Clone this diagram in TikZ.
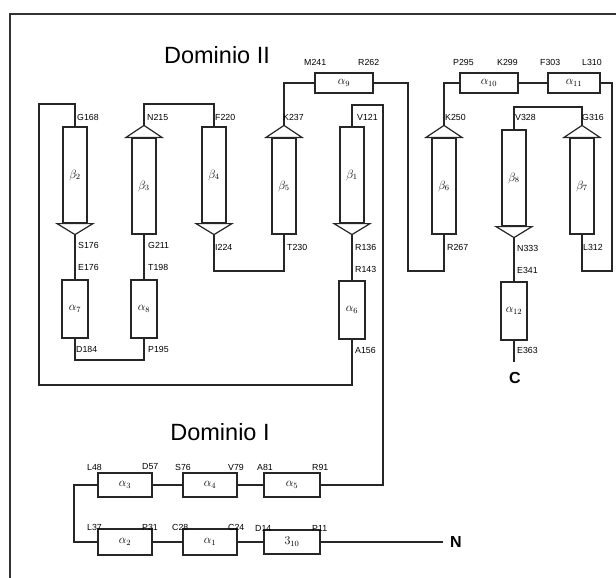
\documentclass[tikz,border=0pt]{standalone}
\usepackage{fontspec}
\setmainfont{Liberation Sans}
\begin{document}
\begin{tikzpicture}[x=1pt,y=-1pt,
  ln/.style={draw=black!85,line width=1.2pt},
  strandbox/.style={ln,fill=white,minimum width=24pt,minimum height=96pt,inner sep=0pt,font=\fontsize{12}{12}\selectfont},
  helv/.style={ln,fill=white,minimum width=26pt,minimum height=58pt,inner sep=0pt,font=\fontsize{12}{12}\selectfont},
  helh/.style={ln,fill=white,minimum width=56pt,minimum height=24pt,inner sep=0pt,font=\fontsize{12}{12}\selectfont},
  lab/.style={anchor=west,inner sep=0pt,font=\fontsize{8.8}{9}\selectfont},
  ttl/.style={inner sep=0pt,font=\fontsize{23.5}{26}\selectfont},
  term/.style={inner sep=0pt,font=\bfseries\fontsize{16}{16}\selectfont}]
\useasboundingbox (0,0) rectangle (616,578);
% frame
\draw[line width=1.5pt,black!80] (616,14) -- (10,14) -- (10,578);
% titles
\node[ttl] (d2) at (217,55) {Dominio II};
\node[ttl] (d1) at (220,432) {Dominio I};
% strands
\node[strandbox] (b2) at (75,175) {$\beta_2$};
\node[strandbox] (b3) at (144,186) {$\beta_3$};
\node[strandbox] (b4) at (214,175) {$\beta_4$};
\node[strandbox] (b5) at (284,186) {$\beta_5$};
\node[strandbox] (b1) at (352,175) {$\beta_1$};
\node[strandbox] (b6) at (444,186) {$\beta_6$};
\node[strandbox] (b8) at (514,178) {$\beta_8$};
\node[strandbox] (b7) at (582,186) {$\beta_7$};
% arrow tips
\coordinate (b2tip) at ([yshift=-11pt]b2.south);
\coordinate (b4tip) at ([yshift=-11pt]b4.south);
\coordinate (b1tip) at ([yshift=-11pt]b1.south);
\coordinate (b8tip) at ([yshift=-11pt]b8.south);
\coordinate (b3tip) at ([yshift=12pt]b3.north);
\coordinate (b5tip) at ([yshift=12pt]b5.north);
\coordinate (b6tip) at ([yshift=12pt]b6.north);
\coordinate (b7tip) at ([yshift=12pt]b7.north);
\foreach \s in {b2,b4,b1,b8}{
  \draw[ln,fill=white] ([xshift=-18pt]\s.south) -- ([xshift=18pt]\s.south) -- (\s tip) -- cycle;}
\foreach \s in {b3,b5,b6,b7}{
  \draw[ln,fill=white] ([xshift=-18pt]\s.north) -- ([xshift=18pt]\s.north) -- (\s tip) -- cycle;}
% helices
\node[helv] (a7) at (75,309) {$\alpha_7$};
\node[helv] (a8) at (144,309) {$\alpha_8$};
\node[helv] (a6) at (352,310) {$\alpha_6$};
\node[helv] (a12) at (514,311) {$\alpha_{12}$};
\node[helh,minimum width=58pt,minimum height=20pt] (a9) at (344,83) {$\alpha_9$};
\node[helh,minimum width=58pt,minimum height=20pt] (a10) at (489,83) {$\alpha_{10}$};
\node[helh,minimum width=52pt,minimum height=20pt] (a11) at (574,83) {$\alpha_{11}$};
\node[helh,minimum width=54pt] (a3) at (125,485) {$\alpha_3$};
\node[helh,minimum width=54pt] (a4) at (210,485) {$\alpha_4$};
\node[helh,minimum width=56pt] (a5) at (292,485) {$\alpha_5$};
\node[helh,minimum width=54pt,minimum height=26pt] (a2) at (125,542) {$\alpha_2$};
\node[helh,minimum width=54pt,minimum height=26pt] (a1) at (210,542) {$\alpha_1$};
\node[helh,minimum width=56pt] (t10) at (292,542) {$3_{10}$};
% helper coordinates
\coordinate (L1) at (39,104);
\coordinate (L2) at (39,385);
\coordinate (B45) at (0,271);
\coordinate (R9) at (408,271);
\coordinate (R11) at (612,271);
\coordinate (T78) at (0,107);
\coordinate (B78) at (0,360);
\coordinate (R1) at (383,105);
\coordinate (LL) at (74,0);
\coordinate (Cend) at (514,362);
\coordinate (Nend) at (443,542);
% termini
\node[term] (C) at (515,378) {C};
\node[term] (N) at (456,542) {N};
% connectors
\draw[ln] (b2.north) |- (L1) -- (L2) -| (a6.south);
\draw[ln] (b3tip) -- (b3tip |- L1) -| (b4.north);
\draw[ln] (b4tip) -- (b4tip |- B45) -| (b5.south);
\draw[ln] (b5tip) |- (a9.west);
\draw[ln] (a9.east) -| (R9) -| (b6.south);
\draw[ln] (b6tip) |- (a10.west);
\draw[ln] (a10.east) -- (a11.west);
\draw[ln] (a11.east) -| (R11) -| (b7.south);
\draw[ln] (b7tip) -- (b7tip |- T78) -| (b8.north);
\draw[ln] (b8tip) -- (a12.north);
\draw[ln] (a12.south) -- (Cend);
\draw[ln] (b2tip) -- (a7.north);
\draw[ln] (a7.south) -- (a7.south |- B78) -| (a8.south);
\draw[ln] (a8.north) -- (b3.south);
\draw[ln] (b1.north) |- (R1) |- (a5.east);
\draw[ln] (b1tip) -- (a6.north);
\draw[ln] (a5.west) -- (a4.east);
\draw[ln] (a4.west) -- (a3.east);
\draw[ln] (a3.west) -- (a3.west -| LL) |- (a2.west);
\draw[ln] (a2.east) -- (a1.west);
\draw[ln] (a1.east) -- (t10.west);
\draw[ln] (t10.east) -- (Nend);
% residue labels
\node[lab] (lG168) at (77,117) {G168};
\node[lab] (lN215) at (147,117) {N215};
\node[lab] (lF220) at (215,117) {F220};
\node[lab] (lK237) at (283,117) {K237};
\node[lab] (lV121) at (357,117) {V121};
\node[lab] (lM241) at (304,62) {M241};
\node[lab] (lR262) at (358,62) {R262};
\node[lab] (lP295) at (453,62) {P295};
\node[lab] (lK299) at (497,62) {K299};
\node[lab] (lF303) at (540,62) {F303};
\node[lab] (lL310) at (582,62) {L310};
\node[lab] (lK250) at (445,117) {K250};
\node[lab] (lV328) at (515,117) {V328};
\node[lab] (lG316) at (582,117) {G316};
\node[lab] (lS176) at (78,245) {S176};
\node[lab] (lE176) at (78,267) {E176};
\node[lab] (lD184) at (76,349) {D184};
\node[lab] (lG211) at (148,245) {G211};
\node[lab] (lT198) at (148,267) {T198};
\node[lab] (lP195) at (148,349) {P195};
\node[lab] (lI224) at (215,247) {I224};
\node[lab] (lT230) at (287,247) {T230};
\node[lab] (lR136) at (355,247) {R136};
\node[lab] (lR143) at (355,269) {R143};
\node[lab] (lA156) at (355,350) {A156};
\node[lab] (lR267) at (447,247) {R267};
\node[lab] (lN333) at (517,248) {N333};
\node[lab] (lE341) at (517,270) {E341};
\node[lab] (lE363) at (517,350) {E363};
\node[lab] (lL312) at (583,247) {L312};
\node[lab] (lL48) at (87,467) {L48};
\node[lab] (lD57) at (142,467) {D57};
\node[lab] (lS76) at (175,467) {S76};
\node[lab] (lV79) at (228,467) {V79};
\node[lab] (lA81) at (257,467) {A81};
\node[lab] (lR91) at (312,467) {R91};
\node[lab] (lL37) at (87,527) {L37};
\node[lab] (lP31) at (142,527) {P31};
\node[lab] (lC28) at (172,527) {C28};
\node[lab] (lC24) at (228,527) {C24};
\node[lab] (lD14) at (255,528) {D14};
\node[lab] (lP11) at (312,528) {P11};
\end{tikzpicture}
\end{document}
